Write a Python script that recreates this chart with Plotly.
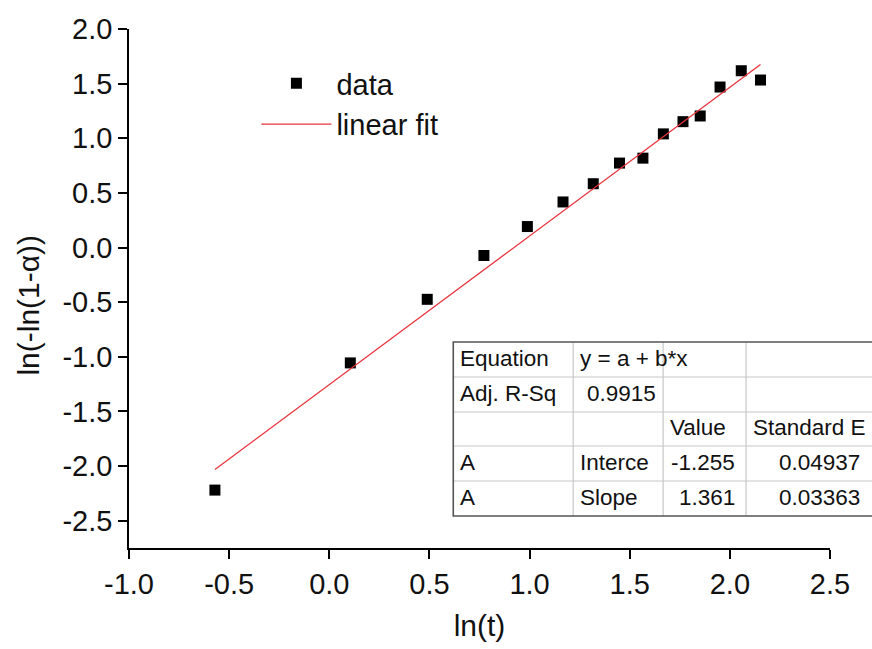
import plotly.graph_objects as go

# Measured points: ln(t) vs ln(-ln(1-alpha))
ln_t = [-0.571, 0.105, 0.489, 0.772, 0.989, 1.167, 1.318, 1.449, 1.566,
        1.668, 1.766, 1.852, 1.951, 2.057, 2.153]
ln_ln = [-2.220, -1.056, -0.474, -0.073, 0.192, 0.417, 0.584, 0.773, 0.818,
         1.040, 1.152, 1.204, 1.469, 1.618, 1.533]

# Linear fit parameters (y = a + b*x)
fit_a = -1.255
fit_b = 1.361
fit_a_err = 0.04937
fit_b_err = 0.03363
adj_r2 = 0.9915

x_ticks = [-1.0, -0.5, 0.0, 0.5, 1.0, 1.5, 2.0, 2.5]
y_ticks = [-2.5, -2.0, -1.5, -1.0, -0.5, 0.0, 0.5, 1.0, 1.5, 2.0]

W, H = 872, 649
L, R, T, B = 128.5, 42, 29, 101
PW, PH = W - L - R, H - T - B

FONT = "Liberation Sans, Arial, sans-serif"


def px(x):
    return (x - L) / PW


def py(y):
    return (H - B - y) / PH


fit_x = [min(ln_t), max(ln_t)]
fit_y = [fit_a + fit_b * v for v in fit_x]

fig = go.Figure()
fig.add_trace(go.Scatter(
    x=ln_t, y=ln_ln, mode="markers", name="data",
    marker=dict(symbol="square", size=11, color="black"),
))
fig.add_trace(go.Scatter(
    x=fit_x, y=fit_y, mode="lines", name="linear fit",
    line=dict(color="#e8323c", width=1.3),
))

axis_common = dict(
    showgrid=False, zeroline=False, showline=True, linecolor="black",
    linewidth=1.6, ticks="outside", ticklen=9, tickwidth=1.6,
    tickcolor="black", tickfont=dict(family=FONT, size=29, color="#111"),
    minor=dict(ticks="outside", ticklen=5, tickwidth=1.6, tickcolor="black",
               nticks=2),
)

fig.update_layout(
    width=W, height=H,
    margin=dict(l=L, r=R, t=T, b=B),
    paper_bgcolor="white", plot_bgcolor="white",
    font=dict(family=FONT, color="#111"),
    xaxis=dict(
        range=[-1.0, 2.5], tickvals=x_ticks,
        ticktext=[f"{v:.1f}" for v in x_ticks],
        title=dict(text="ln(t)", font=dict(family=FONT, size=30), standoff=16),
        **axis_common,
    ),
    yaxis=dict(
        range=[-2.75, 2.0], tickvals=y_ticks,
        ticktext=[f"{v:.1f}" for v in y_ticks],
        **axis_common,
    ),
    legend=dict(
        x=px(256), y=py(58), xanchor="left", yanchor="top",
        bgcolor="rgba(0,0,0,0)", itemwidth=70,
        font=dict(family=FONT, size=29, color="#111"),
        tracegroupgap=0,
    ),
    showlegend=True,
)

# Fit results table
col_x = [453, 573, 663, 746, 880]
row_y = [342, 377, 412, 446, 481, 516]
shapes = []
for xv in col_x[1:-1]:
    shapes.append(dict(type="line", xref="paper", yref="paper",
                       x0=px(xv), x1=px(xv), y0=py(row_y[0]), y1=py(row_y[-1]),
                       line=dict(color="#c8c8c8", width=1.2)))
for yv in row_y[1:-1]:
    shapes.append(dict(type="line", xref="paper", yref="paper",
                       x0=px(col_x[0]), x1=px(col_x[-1]), y0=py(yv), y1=py(yv),
                       line=dict(color="#c8c8c8", width=1.2)))
shapes.append(dict(type="rect", xref="paper", yref="paper",
                   x0=px(col_x[0]), x1=px(col_x[-1]),
                   y0=py(row_y[-1]), y1=py(row_y[0]),
                   line=dict(color="#555", width=1.6), layer="above"))

cells = [
    ("Equation", 0, 0, "left"), ("y = a + b*x", 1, 0, "left"),
    ("Adj. R-Sq", 0, 1, "left"), (f"{adj_r2:.4f}", 1, 1, "right"),
    ("Value", 2, 2, "left"), ("Standard E", 3, 2, "left"),
    ("A", 0, 3, "left"), ("Interce", 1, 3, "left"),
    (f"{fit_a:.3f}", 2, 3, "right"), (f"{fit_a_err:.5f}", 3, 3, "right"),
    ("A", 0, 4, "left"), ("Slope", 1, 4, "left"),
    (f"{fit_b:.3f}", 2, 4, "right"), (f"{fit_b_err:.5f}", 3, 4, "right"),
]
right_edges = [568, 658, 737, 862]
annotations = []
for text, c, r, align in cells:
    yc = (row_y[r] + row_y[r + 1]) / 2 - 1.5
    if align == "left":
        xx, anchor = col_x[c] + 5, "left"
    else:
        xx, anchor = right_edges[c], "right"
    annotations.append(dict(
        text=text, xref="paper", yref="paper", x=px(xx), y=py(yc),
        xanchor=anchor, yanchor="middle", showarrow=False,
        font=dict(family=FONT, size=22.5, color="#111"),
    ))

# Y-axis title
annotations.append(dict(
    text="ln(-ln(1-α))", xref="paper", yref="paper", x=px(27), y=py(305),
    xanchor="center", yanchor="middle", textangle=-90, showarrow=False,
    font=dict(family=FONT, size=30, color="#111"),
))

fig.update_layout(shapes=shapes, annotations=annotations)

fig.write_html("out.html")
